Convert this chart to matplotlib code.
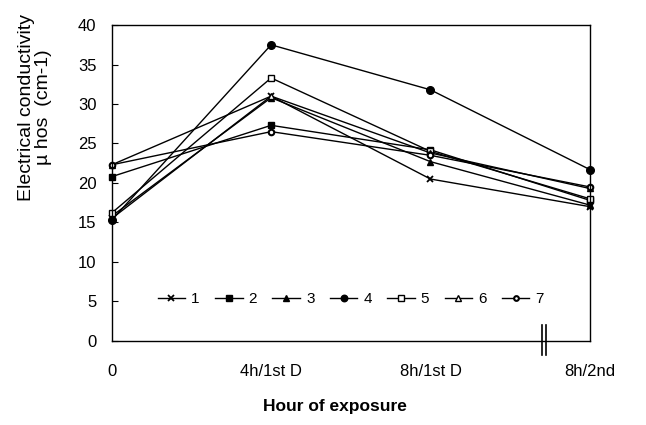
import matplotlib
matplotlib.use("Agg")
import matplotlib.pyplot as plt
import matplotlib.transforms as mtransforms

plt.rcParams['font.family'] = ['Liberation Sans', 'DejaVu Sans']

# data
hours = ['0', '4h/1st D', '8h/1st D', '8h/2nd']
s1 = [15.5, 31.0, 20.5, 17.0]
s2 = [20.8, 27.3, 24.2, 17.8]
s3 = [15.8, 30.8, 22.7, 17.2]
s4 = [15.3, 37.5, 31.8, 21.7]
s5 = [16.2, 33.3, 24.0, 18.0]
s6 = [22.3, 31.0, 23.8, 19.3]
s7 = [22.3, 26.5, 23.5, 19.5]
labels = ['1', '2', '3', '4', '5', '6', '7']

fig = plt.figure(figsize=(6.46, 4.25), dpi=100)
ax = fig.add_axes([0.173, 0.198, 0.74, 0.743])

x = list(range(len(hours)))
styles = [
    dict(marker='x', ms=5, mew=1.3),
    dict(marker='s', ms=5),
    dict(marker='^', ms=5),
    dict(marker='o', ms=5.5),
    dict(marker='s', ms=5, mfc='white'),
    dict(marker='^', ms=5, mfc='white'),
    dict(marker='o', ms=4, mfc='white', mew=1.5),
]
for vals, lab, st in zip([s1, s2, s3, s4, s5, s6, s7], labels, styles):
    ax.plot(x, vals, color='black', lw=1.0, label=lab, clip_on=False, **st)

ax.set_xlim(0, 3)
ax.set_ylim(0, 40)
ax.set_yticks(range(0, 41, 5))
ax.set_xticks(x)
ax.set_xticklabels(hours)
ax.tick_params(axis='y', direction='in', length=4, labelsize=12, pad=11)
ax.tick_params(axis='x', length=0, labelsize=12, pad=17)
for sp in ax.spines.values():
    sp.set_linewidth(1.0)

ax.set_ylabel('Electrical conductivity\n\u00b5 hos  (cm-1)', fontsize=14, linespacing=1.0)
ax.yaxis.set_label_coords(-0.125, 0.74)
ax.set_xlabel('Hour of exposure', fontsize=12.5, fontweight='bold')
ax.xaxis.set_label_coords(0.467, -0.185)

# axis break mark
tr = mtransforms.blended_transform_factory(ax.transData, ax.transAxes)
for xb in (2.7, 2.725):
    ax.plot([xb, xb], [-0.045, 0.05], color='black', lw=1.2, transform=tr, clip_on=False)

ax.legend(loc='lower center', bbox_to_anchor=(0.5, 0.09), ncol=7, frameon=False,
          fontsize=11, handlelength=1.8, handletextpad=0.4, columnspacing=1.0,
          borderaxespad=0, markerscale=0.85)

fig.savefig('out.png', dpi=100)
